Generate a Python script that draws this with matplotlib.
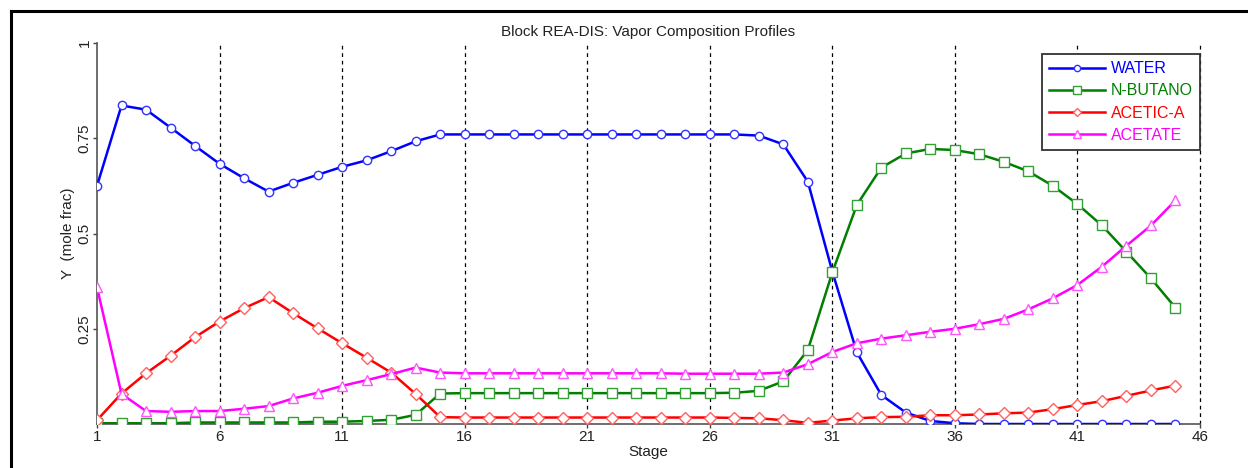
import matplotlib
matplotlib.use("Agg")
import matplotlib.pyplot as plt
from matplotlib.lines import Line2D

plt.rcParams['font.family'] = ['Liberation Sans', 'DejaVu Sans']

stages = list(range(1, 46))

water = [0.625, 0.836, 0.825, 0.778, 0.730, 0.683, 0.645, 0.610, 0.633, 0.654,
         0.675, 0.692, 0.716, 0.742, 0.760, 0.760, 0.760, 0.760, 0.760, 0.760,
         0.760, 0.760, 0.760, 0.760, 0.760, 0.760, 0.760, 0.757, 0.734, 0.636,
         0.400, 0.188, 0.076, 0.030, 0.008, 0.002, 0.000, 0.000, 0.000, 0.000,
         0.000, 0.000, 0.000, 0.000, 0.000]

n_butano = [0.002, 0.002, 0.002, 0.002, 0.004, 0.004, 0.004, 0.004, 0.004, 0.006,
            0.006, 0.008, 0.011, 0.024, 0.080, 0.081, 0.081, 0.081, 0.081, 0.081,
            0.081, 0.081, 0.081, 0.081, 0.081, 0.081, 0.082, 0.087, 0.112, 0.194,
            0.398, 0.575, 0.673, 0.710, 0.722, 0.719, 0.708, 0.688, 0.663, 0.625,
            0.577, 0.521, 0.452, 0.382, 0.305]

acetic_a = [0.010, 0.080, 0.133, 0.179, 0.228, 0.269, 0.304, 0.333, 0.291, 0.251,
            0.212, 0.174, 0.135, 0.079, 0.018, 0.017, 0.017, 0.017, 0.017, 0.017,
            0.017, 0.017, 0.017, 0.017, 0.017, 0.017, 0.016, 0.015, 0.010, 0.003,
            0.009, 0.015, 0.018, 0.019, 0.023, 0.023, 0.025, 0.028, 0.030, 0.039,
            0.050, 0.060, 0.074, 0.088, 0.101]

acetate = [0.359, 0.079, 0.034, 0.032, 0.034, 0.034, 0.040, 0.047, 0.067, 0.082,
           0.100, 0.115, 0.131, 0.148, 0.135, 0.133, 0.133, 0.133, 0.133, 0.133,
           0.133, 0.133, 0.133, 0.133, 0.132, 0.132, 0.132, 0.132, 0.135, 0.157,
           0.189, 0.212, 0.224, 0.233, 0.242, 0.250, 0.262, 0.276, 0.301, 0.330,
           0.365, 0.413, 0.468, 0.521, 0.587]

series_names = ['WATER', 'N-BUTANO', 'ACETIC-A', 'ACETATE']
x_ticks = [1, 6, 11, 16, 21, 26, 31, 36, 41, 46]
y_ticks = [0.25, 0.5, 0.75, 1]
y_tick_labels = ['0.25', '0.5', '0.75', '1']

W, H = 1248, 468
fig = plt.figure(figsize=(W / 100, H / 100), dpi=100)
ax = fig.add_axes([97 / W, 1 - 424 / H, (1200 - 97) / W, (424 - 43) / H])

styles = [
    (water, '#0000ff', 'o', '#3333ff', 6.0),
    (n_butano, '#007f00', 's', '#33a033', 7.0),
    (acetic_a, '#ff0000', 'D', '#ff6060', 5.8),
    (acetate, '#ff00ff', '^', '#ff55ff', 7.0),
]
handles = []
for (vals, col, mk, mec, ms), name in zip(styles, series_names):
    ax.plot(stages, vals, color=col, lw=1.8, marker=mk, ms=ms,
            mfc='white', mec=mec, mew=1.0, zorder=3)
    handles.append(Line2D([], [], color=col, lw=1.8, marker=mk, ms=ms * 0.75,
                          mfc='white', mec=mec, mew=1.0))

ax.set_xlim(1, 46)
ax.set_ylim(0, 1)
ax.set_xticks(x_ticks)
ax.set_xticklabels([str(t) for t in x_ticks])
ax.set_yticks(y_ticks)
ax.set_yticklabels(y_tick_labels, rotation=90, va='center')

# dashed vertical grid at every labelled stage after the first
for xv in x_ticks[1:]:
    ax.axvline(xv, color='black', lw=0.9, ls=(0, (3, 3)), zorder=1,
               clip_on=False)

for side in ('top', 'right'):
    ax.spines[side].set_visible(False)
for side in ('left', 'bottom'):
    ax.spines[side].set_color('#555555')
    ax.spines[side].set_linewidth(1.2)

ax.tick_params(direction='out', length=3, width=1, colors='#444444',
               labelcolor='#222222', labelsize=11)
ax.tick_params(axis='y', pad=1)
ax.tick_params(axis='x', pad=1)

ax.set_title('Block REA-DIS: Vapor Composition Profiles', fontsize=11,
             color='#222222', pad=5)
ax.set_xlabel('Stage', fontsize=11, color='#222222', labelpad=1)
ax.set_ylabel('Y  (mole frac)', fontsize=11, color='#222222', labelpad=2)

leg = ax.legend(handles, series_names, loc='upper right',
                bbox_to_anchor=(1.0, 1 - 11 / 381), borderaxespad=0,
                fontsize=11.5, handlelength=3.5, handletextpad=0.35,
                labelspacing=0.45, borderpad=0.45, fancybox=False,
                framealpha=1, edgecolor='#333333')
leg.get_frame().set_linewidth(1.3)
for txt, (_, col, _, _, _) in zip(leg.get_texts(), styles):
    txt.set_color(col)

# outer frame edges along the top and left of the figure
fig.add_artist(Line2D([11 / W, 1], [1 - 11 / H, 1 - 11 / H], color='black',
                      lw=2.2, transform=fig.transFigure))
fig.add_artist(Line2D([11 / W, 11 / W], [0, 1 - 11 / H], color='black',
                      lw=2.2, transform=fig.transFigure))

fig.savefig('out.png', dpi=100)
